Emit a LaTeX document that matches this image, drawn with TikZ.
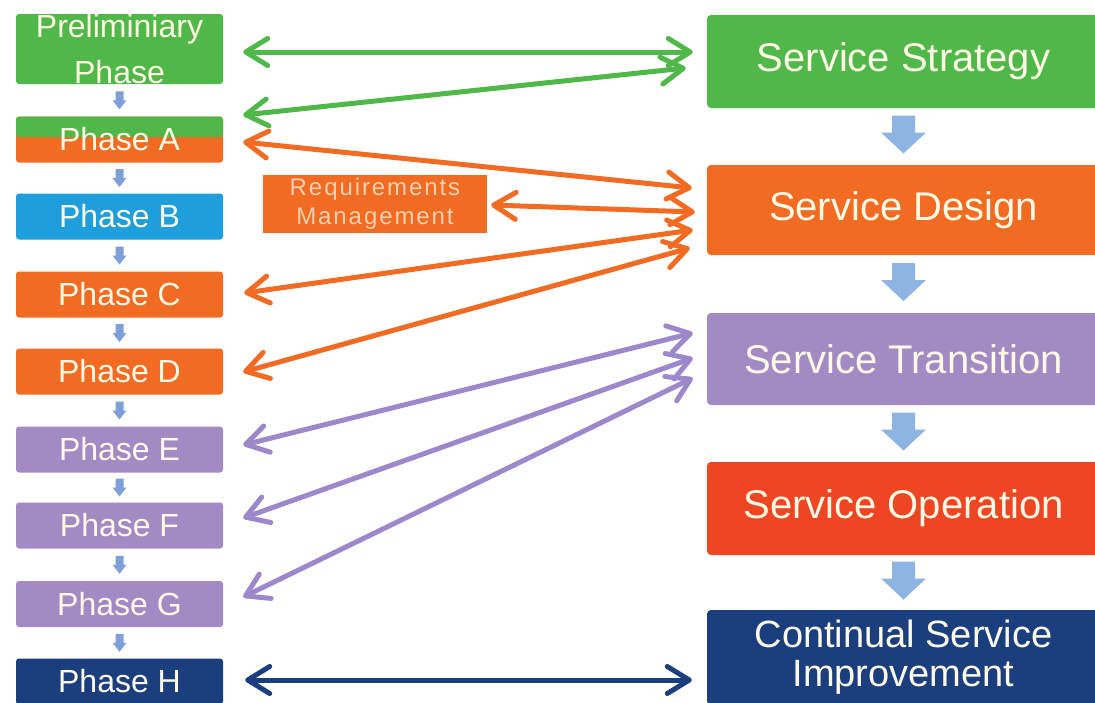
\documentclass[tikz,border=0pt]{standalone}
\usepackage{fontspec}
\setmainfont{Liberation Sans}
\newfontfamily\reqfont[LetterSpace=8]{Liberation Sans}
\usetikzlibrary{arrows.meta,calc}
\definecolor{cgreen}{HTML}{4FB848}
\definecolor{corange}{HTML}{F26B22}
\definecolor{cblue}{HTML}{1E9FDB}
\definecolor{cpurple}{HTML}{A28AC4}
\definecolor{cpurplearr}{HTML}{9E88CC}
\definecolor{cred}{HTML}{EE4623}
\definecolor{cnavy}{HTML}{1B3F7E}
\definecolor{ctext}{HTML}{FFFAE6}
\definecolor{creqtext}{HTML}{FAD0B0}
\definecolor{csmall}{HTML}{7E9FD8}
\definecolor{cbig}{HTML}{8DB4E2}
\tikzset{
  lbox/.style={rectangle, rounded corners=3pt, minimum width=207pt, minimum height=46pt,
    inner sep=0pt, text=ctext, align=center, font=\fontsize{32}{46}\selectfont},
  rbox/.style={rectangle, rounded corners=4pt, minimum width=393pt, minimum height=92pt,
    inner sep=0pt, text=ctext, align=center, font=\fontsize{40}{40}\selectfont},
  reqbox/.style={rectangle, minimum width=224pt, minimum height=58pt, inner sep=0pt,
    text=creqtext, align=center, font=\reqfont\fontsize{24}{29}\selectfont},
  arr/.style={line width=5pt, line cap=round,
    {Straight Barb[length=22pt,width=27pt,round]}-{Straight Barb[length=22pt,width=27pt,round]}},
  smallarr/.pic={\fill[csmall] (-4,-9) -- (4,-9) -- (4,0) -- (7,0) -- (0,9) -- (-7,0) -- (-4,0) -- cycle;},
  bigarr/.pic={\fill[cbig] (-11.5,-19) -- (11.5,-19) -- (11.5,-2) -- (22.5,-2) -- (0,19) -- (-22.5,-2) -- (-11.5,-2) -- cycle;}
}
\begin{document}
\begin{tikzpicture}[x=1pt,y=-1pt]
\clip (0,0) rectangle (1095,702);
\fill[white] (0,0) rectangle (1095,702);

% left column
\node[lbox, fill=cgreen, minimum height=70pt] (pre) at (119.5,49) {Preliminiary\\Phase};
\node[lbox, fill=corange, path picture={\fill[cgreen] (path picture bounding box.north west) rectangle ([yshift=2.5pt]path picture bounding box.east);}] (pa) at (119.5,139.5) {Phase A};
\node[lbox, fill=cblue] (pb) at (119.5,216.5) {Phase B};
\node[lbox, fill=corange] (pc) at (119.5,294.5) {Phase C};
\node[lbox, fill=corange] (pd) at (119.5,371.5) {Phase D};
\node[lbox, fill=cpurple] (pe) at (119.5,449.5) {Phase E};
\node[lbox, fill=cpurple] (pf) at (119.5,525.5) {Phase F};
\node[lbox, fill=cpurple] (pg) at (119.5,604) {Phase G};
\node[lbox, fill=cnavy] (ph) at (119.5,681.5) {Phase H};

\node[reqbox, fill=corange] (req) at (375,204) {Requirements\\Management};

% right column
\node[rbox, fill=cgreen, minimum height=93pt] (strat) at (903.5,61.5) {Service Strategy};
\node[rbox, fill=corange, minimum height=90pt] (design) at (903.5,210) {Service Design};
\node[rbox, fill=cpurple] (trans) at (903.5,359) {Service Transition};
\node[rbox, fill=cred, minimum height=93pt] (oper) at (903.5,508.5) {Service Operation};
\node[rbox, fill=cnavy, minimum height=95pt, font=\fontsize{38}{39}\selectfont] (csi) at (903.5,657.5) {Continual Service\\Improvement};

% small flow arrows
\foreach \a/\b in {pre/pa,pa/pb,pb/pc,pc/pd,pd/pe,pe/pf,pf/pg,pg/ph}
  \pic at ($(\a.south)!0.5!(\b.north)$) {smallarr};
\foreach \a/\b in {strat/design,design/trans,trans/oper,oper/csi}
  \pic at ($(\a.south)!0.5!(\b.north)+(0,-2)$) {bigarr};

% connectors
\draw[arr, cgreen] ([xshift=20pt,yshift=-3pt]pre.east) -- ([xshift=-14pt,yshift=9.5pt]strat.west);
\draw[arr, cgreen] ([xshift=20pt,yshift=24.5pt]pa.east) -- ([xshift=-21pt,yshift=-6.5pt]strat.west);
\draw[arr, corange] ([xshift=20pt,yshift=-2.5pt]pa.east) -- ([xshift=-15pt,yshift=22pt]design.west);
\draw[arr, corange] ([xshift=4pt,yshift=-1pt]req.east) -- ([xshift=-12pt,yshift=-2pt]design.west);
\draw[arr, corange] ([xshift=21pt,yshift=1.5pt]pc.east) -- ([xshift=-14pt,yshift=-20pt]design.west);
\draw[arr, corange] ([xshift=20pt,yshift=-0.5pt]pd.east) -- ([xshift=-17pt,yshift=-38pt]design.west);
\draw[arr, cpurplearr] ([xshift=20pt,yshift=4.5pt]pe.east) -- ([xshift=-14pt,yshift=26pt]trans.west);
\draw[arr, cpurplearr] ([xshift=20pt,yshift=7.5pt]pf.east) -- ([xshift=-14pt,yshift=1pt]trans.west);
\draw[arr, cpurplearr] ([xshift=20pt,yshift=7pt]pg.east) -- ([xshift=-14pt,yshift=-19pt]trans.west);
\draw[arr, cnavy] ([xshift=22pt,yshift=1.5pt]ph.east) -- ([xshift=-15pt,yshift=-22.5pt]csi.west);
\end{tikzpicture}
\end{document}
